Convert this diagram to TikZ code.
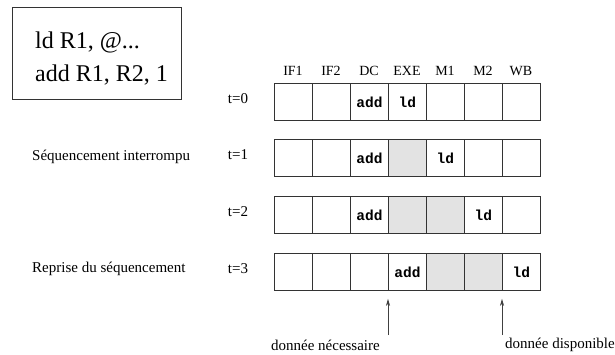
\documentclass[tikz,border=0pt]{standalone}
\usepackage{fontspec}
\setmainfont{Liberation Serif}
\setmonofont{Liberation Mono}
\usetikzlibrary{arrows.meta}
\begin{document}
\begin{tikzpicture}[x=1pt,y=-1pt,
  txt/.style={font=\fontsize{15}{17}\selectfont,inner sep=0pt},
  head/.style={font=\fontsize{14}{16}\selectfont,inner sep=0pt},
  cell/.style={draw=black!80,line width=0.8pt,minimum width=38pt,minimum height=37pt,inner sep=0pt,anchor=north west,font=\fontsize{14.5}{16}\ttfamily\bfseries},
  stall/.style={cell,fill=black!11},
  pointer/.style={draw=black!75,line width=0.8pt,-{Stealth[length=7pt,width=4pt,inset=2pt]}}]
\useasboundingbox (0,0) rectangle (615,354);

% program listing
\node[draw=black!80,line width=0.8pt,minimum width=169pt,minimum height=92pt,anchor=north west,inner sep=0pt] (prog) at (12,7) {};
\node[anchor=west,inner sep=0pt,font=\fontsize{24}{28}\selectfont] (l1) at (35,42) {ld R1, @...};
\node[anchor=west,inner sep=0pt,font=\fontsize{24}{28}\selectfont] (l2) at (35,75) {add R1, R2, 1};

% stage names
\foreach \s [count=\i from 0] in {IF1,IF2,DC,EXE,M1,M2,WB}
  \node[head] (h\i) at (293+38*\i,71) {\s};

% pipeline rows: \r = row, \y = top edge
\foreach \r/\y in {0/83,1/139,2/196,3/253}{
  \foreach \c in {0,...,6}
    \node[cell] (c\r\c) at (274+38*\c,\y) {};
  \node[txt] (t\r) at (238,\y+16) {t=\r};
}

% stalled stages
\foreach \r/\c in {1/3,2/3,2/4,3/4,3/5}
  \node[stall] at (c\r\c.north west) {};

% instruction positions
\node[cell,draw=none] at (c02.north west) {add};
\node[cell,draw=none] at (c03.north west) {ld};
\node[cell,draw=none] at (c12.north west) {add};
\node[cell,draw=none] at (c14.north west) {ld};
\node[cell,draw=none] at (c22.north west) {add};
\node[cell,draw=none] at (c25.north west) {ld};
\node[cell,draw=none] at (c33.north west) {add};
\node[cell,draw=none] at (c36.north west) {ld};

% row comments
\node[txt,anchor=west] (seq1) at (32,157) {Séquencement interrompu};
\node[txt,anchor=west] (seq2) at (32,269) {Reprise du séquencement};

% data dependency markers
\coordinate (a1) at (388,335);
\coordinate (a2) at (502,335);
\draw[pointer] (a1) -- ([yshift=-8pt]c33.south west);
\draw[pointer] (a2) -- ([yshift=-8pt]c36.south west);
\node[txt,anchor=east] (need) at (380,345) {donnée nécessaire};
\node[txt,anchor=west] (avail) at (505,345) {donnée\ disponible};
\end{tikzpicture}
\end{document}
